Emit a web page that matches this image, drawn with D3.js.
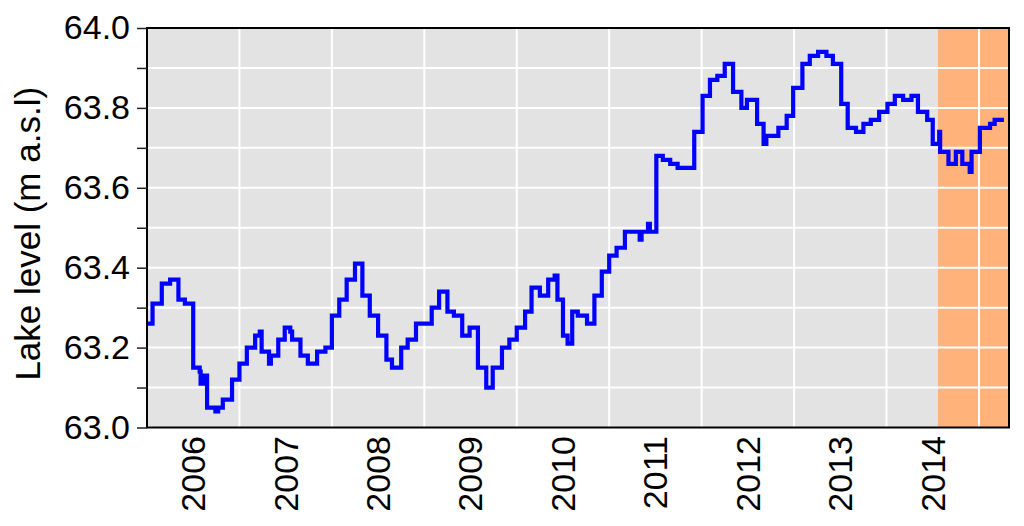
<!DOCTYPE html>
<html lang="en">
<head>
    <title>Lake level</title>
    <script src="https://d3js.org/d3.v7.min.js" charset="utf-8"></script>
    <style type="text/css">
        body
        {
            margin: 0;
            background-color: white;
        }
        svg
        {
            display: block;
            font-family: "Liberation Sans", Arial, sans-serif;
        }
    </style>
</head>
<body>
    <div id="chart_div"></div>
    <script>
    "use strict";

    // decimal year of each reading (step changes)
    var years = [2006.00, 2006.06, 2006.16, 2006.25, 2006.34, 2006.41, 2006.50, 2006.57, 2006.58, 2006.61,
        2006.65, 2006.74, 2006.77, 2006.82, 2006.92, 2007.00, 2007.08, 2007.17, 2007.22, 2007.24,
        2007.32, 2007.34, 2007.42, 2007.49, 2007.55, 2007.57, 2007.66, 2007.74, 2007.84, 2007.93,
        2008.00, 2008.08, 2008.16, 2008.25, 2008.33, 2008.41, 2008.50, 2008.59, 2008.65, 2008.75,
        2008.82, 2008.91, 2009.08, 2009.16, 2009.25, 2009.32, 2009.41, 2009.49, 2009.58, 2009.67,
        2009.74, 2009.84, 2009.92, 2010.00, 2010.09, 2010.16, 2010.25, 2010.34, 2010.41, 2010.44,
        2010.50, 2010.55, 2010.60, 2010.66, 2010.76, 2010.84, 2010.92, 2011.00, 2011.08, 2011.17,
        2011.26, 2011.33, 2011.35, 2011.42, 2011.44, 2011.51, 2011.58, 2011.66, 2011.74, 2011.92,
        2012.01, 2012.09, 2012.17, 2012.25, 2012.34, 2012.43, 2012.49, 2012.60, 2012.67, 2012.70,
        2012.76, 2012.83, 2012.92, 2012.99, 2013.09, 2013.17, 2013.26, 2013.35, 2013.42, 2013.51,
        2013.58, 2013.67, 2013.75, 2013.83, 2013.92, 2014.01, 2014.09, 2014.18, 2014.27, 2014.34,
        2014.44, 2014.50, 2014.57, 2014.58, 2014.67, 2014.75, 2014.82, 2014.90, 2014.92, 2015.01,
        2015.12, 2015.17, 2015.27];
    // lake level, m a.s.l
    var levels = [63.26, 63.31, 63.36, 63.37, 63.32, 63.31, 63.15, 63.14, 63.11, 63.13,
        63.05, 63.04, 63.05, 63.07, 63.12, 63.16, 63.20, 63.23, 63.24, 63.19,
        63.16, 63.18, 63.22, 63.25, 63.24, 63.22, 63.18, 63.16, 63.19, 63.20,
        63.28, 63.32, 63.37, 63.41, 63.33, 63.28, 63.23, 63.17, 63.15, 63.20,
        63.22, 63.26, 63.30, 63.34, 63.29, 63.28, 63.23, 63.25, 63.15, 63.10,
        63.15, 63.20, 63.22, 63.25, 63.29, 63.35, 63.33, 63.37, 63.38, 63.32,
        63.23, 63.21, 63.29, 63.28, 63.26, 63.33, 63.39, 63.43, 63.45, 63.49,
        63.49, 63.47, 63.49, 63.51, 63.49, 63.68, 63.67, 63.66, 63.65, 63.74,
        63.83, 63.87, 63.88, 63.91, 63.84, 63.80, 63.82, 63.76, 63.71, 63.73,
        63.73, 63.75, 63.78, 63.85, 63.91, 63.93, 63.94, 63.93, 63.91, 63.81,
        63.75, 63.74, 63.76, 63.77, 63.79, 63.81, 63.83, 63.82, 63.83, 63.79,
        63.77, 63.71, 63.74, 63.69, 63.66, 63.69, 63.66, 63.64, 63.69, 63.75,
        63.76, 63.77, 63.77];

    var year_labels = ["2006", "2007", "2008", "2009", "2010", "2011", "2012", "2013", "2014"];
    var y_ticks = [63.0, 63.1, 63.2, 63.3, 63.4, 63.5, 63.6, 63.7, 63.8, 63.9, 64.0];
    var y_labels = [63.0, 63.2, 63.4, 63.6, 63.8, 64.0];
    var x_domain = [2006, 2015.325];
    var highlight_start = 2014.556;

    var svg_width = 1024;
    var svg_height = 526;
    var p_left = 147, p_right = 1009, p_top = 28, p_bottom = 427.5;

    var x = d3.scaleLinear().domain(x_domain).range([p_left, p_right]);
    var y = d3.scaleLinear().domain([63, 64]).range([p_bottom, p_top]);

    var data = years.map(function(d, i) { return {t: d, v: levels[i]}; });

    var svg = d3.select("#chart_div")
        .append("svg")
        .attr("width", svg_width)
        .attr("height", svg_height);

    // panel background
    svg.append("rect")
        .attr("x", p_left)
        .attr("y", p_top)
        .attr("width", p_right - p_left)
        .attr("height", p_bottom - p_top)
        .attr("fill", "#e3e3e3");

    svg.append("rect")
        .attr("x", x(highlight_start))
        .attr("y", p_top)
        .attr("width", p_right - x(highlight_start))
        .attr("height", p_bottom - p_top)
        .attr("fill", "#ffb27a");

    // grid
    svg.append("g")
        .selectAll("line")
        .data(y_ticks.slice(1, -1))
        .enter()
        .append("line")
        .attr("x1", p_left)
        .attr("x2", p_right)
        .attr("y1", function(d) { return y(d); })
        .attr("y2", function(d) { return y(d); })
        .attr("stroke", "white")
        .attr("stroke-width", 2);

    svg.append("g")
        .selectAll("line")
        .data(d3.range(2007, 2016))
        .enter()
        .append("line")
        .attr("x1", function(d) { return x(d); })
        .attr("x2", function(d) { return x(d); })
        .attr("y1", p_top)
        .attr("y2", p_bottom)
        .attr("stroke", "white")
        .attr("stroke-width", 2);

    // lake level line
    var line = d3.line()
        .x(function(d) { return x(d.t); })
        .y(function(d) { return y(d.v); })
        .curve(d3.curveStepAfter);

    svg.append("path")
        .datum(data)
        .attr("d", line)
        .attr("fill", "none")
        .attr("stroke", "#0000ff")
        .attr("stroke-width", 4.2)
        .attr("stroke-linejoin", "miter");

    // frame
    svg.append("rect")
        .attr("x", p_left)
        .attr("y", p_top)
        .attr("width", p_right - p_left)
        .attr("height", p_bottom - p_top)
        .attr("fill", "none")
        .attr("stroke", "black")
        .attr("stroke-width", 2);

    // y axis
    var y_axis = d3.axisLeft(y)
        .tickValues(y_ticks)
        .tickSize(10)
        .tickFormat(function(d) { return y_labels.some(function(l) { return Math.abs(l - d) < 1e-6; }) ? d3.format(".1f")(d) : ""; });

    var gy = svg.append("g")
        .attr("transform", "translate(" + p_left + ",0)")
        .call(y_axis);
    gy.select(".domain").remove();
    gy.selectAll(".tick line").attr("stroke", "#222").attr("stroke-width", 1.5);
    gy.selectAll(".tick text")
        .attr("x", -17)
        .attr("font-size", "34px")
        .attr("font-family", "Liberation Sans, Arial, sans-serif")
        .attr("fill", "black");

    // year labels, centred in each year
    svg.append("g")
        .selectAll("text")
        .data(year_labels)
        .enter()
        .append("text")
        .attr("transform", function(d) { return "translate(" + x(+d + 0.5) + ",436) rotate(-90)"; })
        .attr("text-anchor", "end")
        .attr("dy", "0.35em")
        .attr("font-size", "34px")
        .text(function(d) { return d; });

    svg.append("text")
        .attr("transform", "translate(28," + ((p_top + p_bottom) / 2 + 6) + ") rotate(-90)")
        .attr("text-anchor", "middle")
        .attr("dy", "0.35em")
        .attr("font-size", "35px")
        .text("Lake level (m a.s.l)");
    </script>
</body>
</html>
